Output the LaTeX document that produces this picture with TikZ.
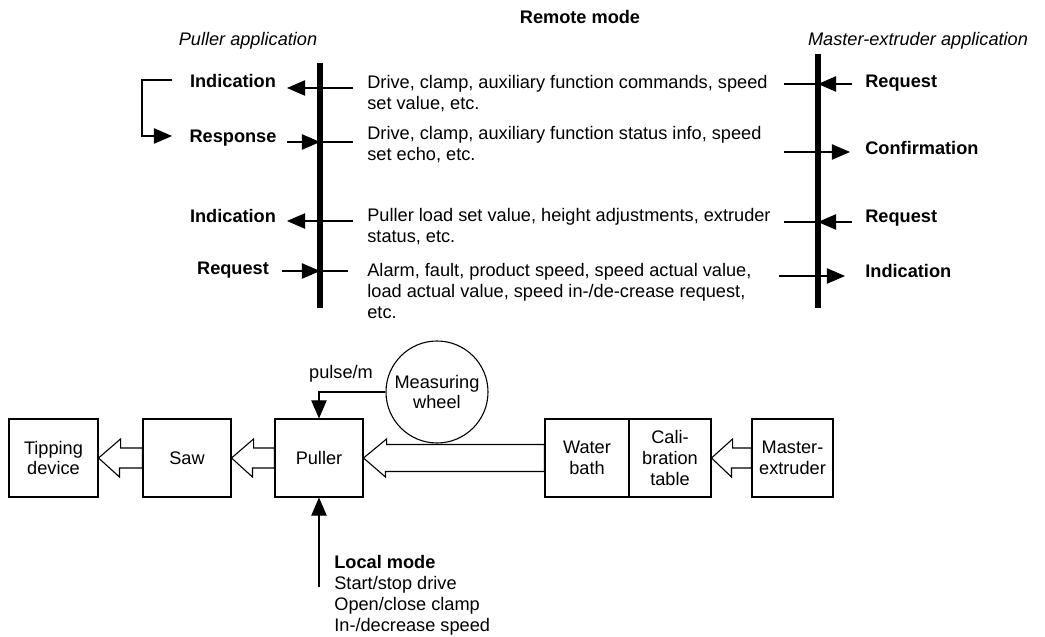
\documentclass[tikz,border=0pt]{standalone}
\usepackage{fontspec}
\setmainfont{Liberation Sans}
\usepackage{tikz}
\usetikzlibrary{arrows.meta,calc}

\begin{document}
\begin{tikzpicture}[
    x=0.55pt, y=-0.55pt,
    txt/.style   = {inner sep=0pt, font=\fontsize{10}{11.5}\selectfont},
    lab/.style   = {txt, font=\fontsize{10}{11.5}\selectfont\bfseries, anchor=base},
    rlab/.style  = {lab, anchor=base west},
    apptitle/.style = {txt, font=\fontsize{10}{11.5}\selectfont\itshape, anchor=base},
    msg/.style   = {txt, align=left, anchor=north west},
    box/.style   = {
        rectangle,
        draw=black,
        line width=0.6pt,
        minimum height=78*\pxu,
        align=center,
        inner sep=1pt,
        font=\fontsize{10}{11.5}\selectfont
    },
    wheel/.style = {circle, draw=black, line width=0.6pt, minimum size=102*\pxu, inner sep=0pt,
                    align=center, font=\fontsize{10}{11.5}\selectfont},
    bar/.style   = {line width=3.4pt},
    thinline/.style = {line width=0.6pt},
    arrow/.style = {-{Triangle[length=10pt,width=8.5pt]}, line width=0.6pt},
    block/.style = {draw=black, fill=white, line width=0.6pt, line join=miter}
]

% pixel unit
\def\pxu{0.55pt}

\useasboundingbox (0,0) rectangle (1045,637);

% Titles
\node[lab] (remote) at (580,24) {Remote mode};
\node[apptitle] (pullapp) at (248,46) {Puller application};
\node[apptitle] (mastapp) at (918,46) {Master-extruder application};

% Application bars
\coordinate (ptop) at (320,63);
\coordinate (pbot) at (320,308);
\coordinate (mtop) at (818,54);
\coordinate (mbot) at (818,308);
\draw[bar] (ptop) -- (pbot);
\draw[bar] (mtop) -- (mbot);

% Puller side labels
\node[lab] (pind1) at (233,88)  {Indication};
\node[lab] (presp) at (233,143) {Response};
\node[lab] (pind2) at (233,223) {Indication};
\node[lab] (preq)  at (233,275) {Request};

% Master-extruder side labels
\node[rlab] (mreq1) at (865,88)  {Request};
\node[rlab] (mconf) at (865,155) {Confirmation};
\node[rlab] (mreq2) at (865,223) {Request};
\node[rlab] (mind)  at (865,278) {Indication};

% Messages
\node[msg] (msg1) at (367,75)  {Drive, clamp, auxiliary function commands, speed\\set value, etc.};
\node[msg] (msg2) at (367,126) {Drive, clamp, auxiliary function status info, speed\\set echo, etc.};
\node[msg] (msg3) at (367,208) {Puller load set value, height adjustments, extruder\\status, etc.};
\node[msg] (msg4) at (367,263) {Alarm, fault, product speed, speed actual value,\\load actual value, speed in-/de-crease request,\\etc.};

% Arrows - puller side
\coordinate (pl1) at (287,88);  \coordinate (pr1) at (353,88);
\coordinate (pl2) at (287,142); \coordinate (pr2) at (353,142);
\coordinate (pl3) at (287,221); \coordinate (pr3) at (353,221);
\coordinate (pl4) at (282,271); \coordinate (pr4) at (348,271);
\draw[arrow] (pr1) -- (pl1);
\draw[thinline] (pl2) -- (pr2);
\draw[arrow] (pl2) -- (pl2 -| ptop);
\draw[arrow] (pr3) -- (pl3);
\draw[thinline] (pl4) -- (pr4);
\draw[arrow] (pl4) -- (pl4 -| ptop);

% Feedback from indication to response
\coordinate (fbA) at (172,80);
\coordinate (fbB) at (172,136);
\draw[arrow] (fbA) -- ++(-30,0) |- (fbB);

% Arrows - master-extruder side
\coordinate (ml1) at (784,84);  \coordinate (mr1) at (852,84);
\coordinate (ml2) at (784,152); \coordinate (mr2) at (850,152);
\coordinate (ml3) at (784,222); \coordinate (mr3) at (852,222);
\coordinate (ml4) at (779,276); \coordinate (mr4) at (845,276);
\draw[thinline] (ml1) -- (mr1);
\draw[arrow] (mr1) -- (mr1 -| mtop);
\draw[arrow] (ml2) -- (mr2);
\draw[thinline] (ml3) -- (mr3);
\draw[arrow] (mr3) -- (mr3 -| mtop);
\draw[arrow] (ml4) -- (mr4);

% Line components
\node[box, minimum width=89*\pxu] (tipping) at (53.5,458) {Tipping\\device};
\node[box, minimum width=88*\pxu] (saw)     at (187,458)  {Saw};
\node[box, minimum width=88*\pxu] (puller)  at (319,458)  {Puller};
\node[box, minimum width=84*\pxu] (bath)    at (587,458)  {Water\\bath};
\node[box, minimum width=82*\pxu] (calib)   at (670,458)  {Cali-\\bration\\table};
\node[box, minimum width=81*\pxu] (master)  at (792.5,458) {Master-\\extruder};
\node[wheel] (wheel) at (437,392) {Measuring\\wheel};

% Product flow
\draw[block] (tipping.east) -- ++(22,-19) -- ++(0,9) -- ($(saw.west)+(0,-10)$)
    -- ($(saw.west)+(0,10)$) -- ++(-23,0) -- ++(0,9) -- cycle;
\draw[block] (saw.east) -- ++(22,-19) -- ++(0,9) -- ($(puller.west)+(0,-10)$)
    -- ($(puller.west)+(0,10)$) -- ++(-22,0) -- ++(0,9) -- cycle;
\draw[block] (puller.east) -- ++(23,-19) -- ++(0,5.5) -- ($(bath.west)+(0,-13.5)$)
    -- ($(bath.west)+(0,13.5)$) -- ++(-159,0) -- ++(0,5.5) -- cycle;
\draw[block] (calib.east) -- ++(21,-19) -- ++(0,9) -- ($(master.west)+(0,-10)$)
    -- ($(master.west)+(0,10)$) -- ++(-20,0) -- ++(0,9) -- cycle;

% Measuring wheel signal
\node[txt, anchor=base] (pulse) at (341,379) {pulse/m};
\draw[arrow] (wheel.west) -| (puller.north);

% Local mode
\coordinate (lmode) at (319,587);
\draw[arrow] (lmode) -- (puller.south);
\node[msg] (local) at (334,555) {\textbf{Local mode}\\Start/stop drive\\Open/close clamp\\In-/decrease speed};

\end{tikzpicture}
\end{document}
